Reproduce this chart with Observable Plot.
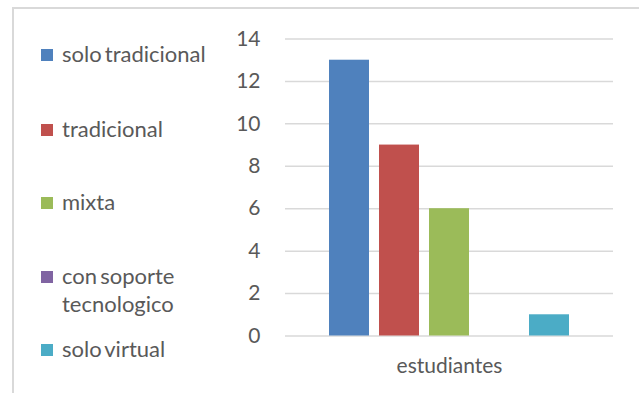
<!DOCTYPE html>
<html>
<head>
<meta charset="utf-8">
<script src="https://cdn.jsdelivr.net/npm/d3@7"></script>
<script src="https://cdn.jsdelivr.net/npm/@observablehq/plot@0.6"></script>
<style>
  html, body { margin: 0; padding: 0; background: #fff; overflow: hidden; }
  #wrap { position: relative; width: 639px; height: 393px; overflow: hidden; font-family: Lato, sans-serif; }
  #border { position: absolute; left: 12px; top: 7px; width: 700px; height: 500px; border: 2px solid #d9d9d9; box-sizing: border-box; }
  #chart { position: absolute; left: 0; top: 0; }
  .item { position: absolute; left: 41px; width: 200px; font-size: 22px; line-height: 28px; color: #595959; word-spacing: -2.5px; }
  .sw { position: absolute; left: 0; width: 12px; height: 12px; }
  .lbl { position: absolute; left: 21px; width: 170px; }
</style>
</head>
<body>
<div id="wrap">
  <div id="border"></div>
  <div id="chart"></div>
</div>
<script>
const categories = ["solo tradicional", "tradicional", "mixta", "con soporte tecnologico", "solo virtual"];
const values = [13, 9, 6, 0, 1];
const colors = ["#4f81bd", "#c0504d", "#9bbb59", "#8064a2", "#4bacc6"];
const group = "estudiantes";
const yTicks = [0, 2, 4, 6, 8, 10, 12, 14];

const data = categories.map((c, i) => ({category: c, value: values[i], group}));

const plot = Plot.plot({
  width: 639,
  height: 393,
  marginLeft: 285,
  marginRight: 26,
  marginTop: 38.5,
  marginBottom: 57.5,
  style: {fontFamily: "Lato, sans-serif", fontSize: "21px", color: "#595959", background: "transparent"},
  fx: {domain: [group], padding: 0, label: null, axis: null},
  x: {domain: categories, paddingInner: 0.21, paddingOuter: 0.87, axis: null},
  y: {domain: [0, 14], ticks: yTicks, label: null},
  color: {domain: categories, range: colors},
  marks: [
    Plot.ruleY(yTicks, {stroke: "#d9d9d9", strokeWidth: 1.5}),
    Plot.barY(data, {fx: "group", x: "category", y: "value", fill: "category"}),
    Plot.axisY({ticks: yTicks, tickSize: 0, tickPadding: 25, label: null, fill: "#595959", fontSize: 21}),
    Plot.axisFx({anchor: "bottom", domain: [group], tickSize: 0, tickPadding: 22, label: null, fill: "#595959", fontSize: 21})
  ]
});
document.getElementById("chart").appendChild(plot);

const tops = [40, 115, 188, 262, 335];
const wrap = document.getElementById("wrap");
categories.forEach((c, i) => {
  const item = document.createElement("div");
  item.className = "item";
  item.style.top = tops[i] + "px";
  const sw = document.createElement("div");
  sw.className = "sw";
  sw.style.background = colors[i];
  sw.style.top = "9px";
  const lbl = document.createElement("div");
  lbl.className = "lbl";
  lbl.textContent = c;
  item.appendChild(sw);
  item.appendChild(lbl);
  wrap.appendChild(item);
});
</script>
</body>
</html>
